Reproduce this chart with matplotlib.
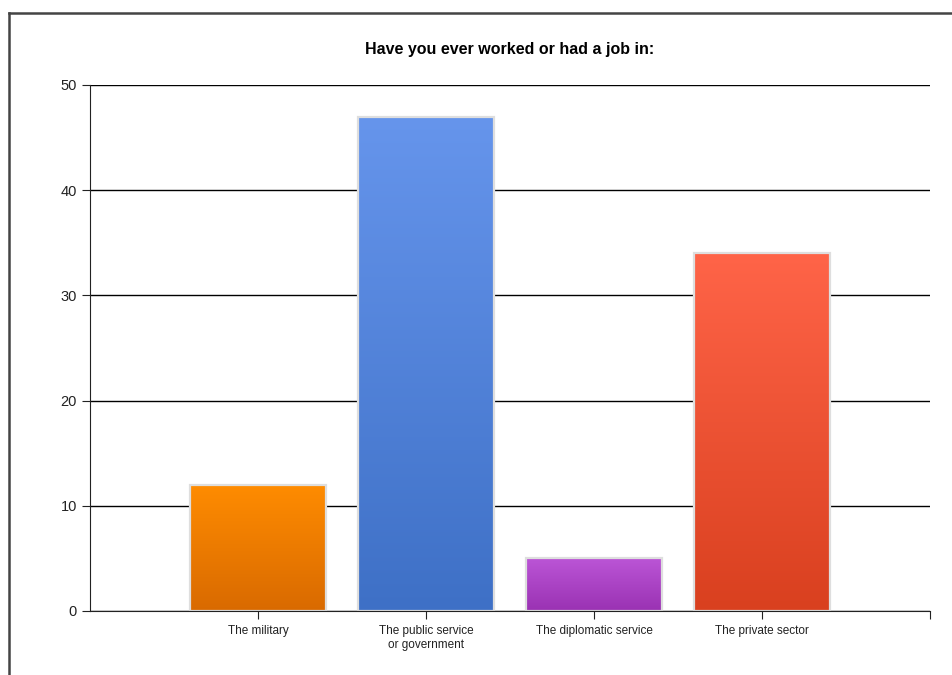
import numpy as np
import matplotlib.pyplot as plt
from matplotlib.colors import LinearSegmentedColormap
from matplotlib.patches import Rectangle
from matplotlib.lines import Line2D

plt.rcParams['font.family'] = ['Liberation Sans', 'DejaVu Sans']

# data
categories = ['The military', 'The public service\nor government',
              'The diplomatic service', 'The private sector']
values = [12, 47, 5, 34]
top_colors = ['#ff8c00', '#6695ec', '#bb55d6', '#ff6448']
bottom_colors = ['#d96a00', '#3e70c6', '#9a32b3', '#d9401f']
yticks = [0, 10, 20, 30, 40, 50]

fig = plt.figure(figsize=(9.52, 6.75), dpi=100)
ax = fig.add_axes([90 / 952, 1 - 611 / 675, 840 / 952, 526 / 675])

x = np.arange(1, len(values) + 1)
width = 0.81
grad = np.linspace(0, 1, 256).reshape(-1, 1)

for xi, v, c_top, c_bot in zip(x, values, top_colors, bottom_colors):
    cmap = LinearSegmentedColormap.from_list('g', [c_bot, c_top])
    left = xi - width / 2
    im = ax.imshow(grad, cmap=cmap, aspect='auto', origin='lower',
                   extent=[left, left + width, 0, v], zorder=3)
    rect = Rectangle((left, 0), width, v, facecolor='none',
                     edgecolor='#dedede', linewidth=1.6, zorder=4)
    ax.add_patch(rect)
    im.set_clip_path(rect)

ax.set_xlim(0, 5)
ax.set_ylim(0, 50)
ax.set_yticks(yticks)
ax.set_xticks(list(x) + [5])
ax.set_xticklabels(categories + [''], fontsize=8.5, color='#222222')
ax.tick_params(axis='y', labelsize=10.5, color='#222222', labelcolor='#222222', length=6)
ax.tick_params(axis='x', length=6, color='#222222', pad=4)
ax.grid(axis='y', color='black', linewidth=1)
ax.set_axisbelow(True)

for side in ['top', 'right']:
    ax.spines[side].set_visible(False)
ax.spines['left'].set_color('#222222')
ax.spines['bottom'].set_color('#222222')
ax.spines['bottom'].set_zorder(5)

ax.set_title('Have you ever worked or had a job in:', fontsize=11.5,
             fontweight='bold', pad=22)

# outer frame (top and left edges)
fig.add_artist(Line2D([9 / 952, 1.0], [1 - 12.5 / 675, 1 - 12.5 / 675],
                      color='#444444', linewidth=1.8, transform=fig.transFigure))
fig.add_artist(Line2D([9 / 952, 9 / 952], [0, 1 - 12.5 / 675],
                      color='#444444', linewidth=1.8, transform=fig.transFigure))

fig.savefig('out.png', dpi=100)
